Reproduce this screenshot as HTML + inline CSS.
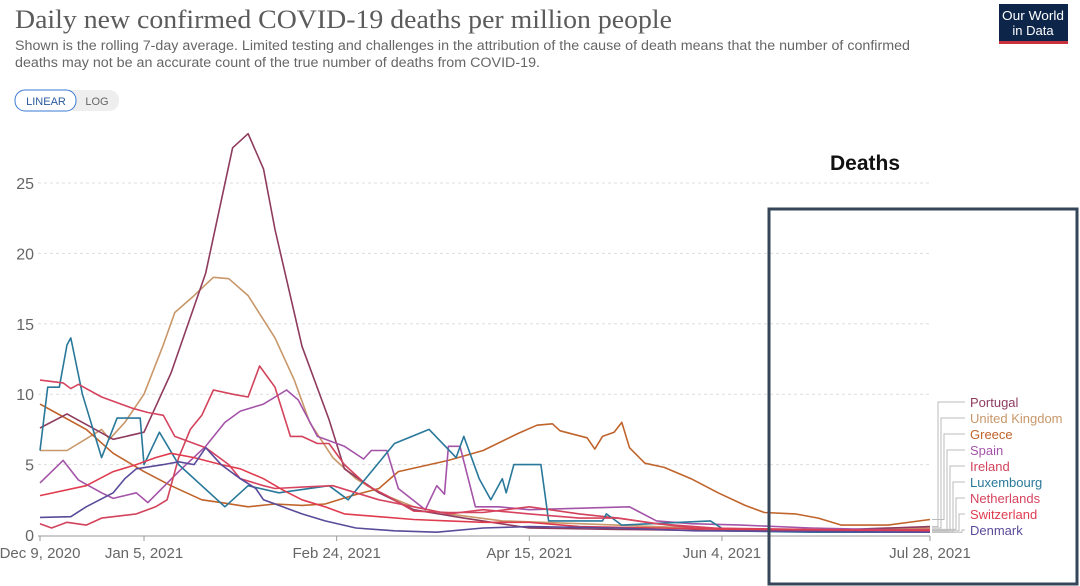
<!DOCTYPE html>
<html><head><meta charset="utf-8"><style>
html,body{margin:0;padding:0;background:#fff;}
svg{display:block;font-family:"Liberation Sans",sans-serif;}
</style></head><body>
<svg id="chart" width="1080" height="586" viewBox="0 0 1080 586" xmlns="http://www.w3.org/2000/svg">
<text x="15" y="28" font-family="Liberation Serif, serif" font-size="26" fill="#5b5b5b" textLength="657" lengthAdjust="spacingAndGlyphs">Daily new confirmed COVID-19 deaths per million people</text>
<text x="15" y="50" font-size="13.5" fill="#666" textLength="895" lengthAdjust="spacingAndGlyphs">Shown is the rolling 7-day average. Limited testing and challenges in the attribution of the cause of death means that the number of confirmed</text>
<text x="15" y="67" font-size="13.5" fill="#666" textLength="525" lengthAdjust="spacingAndGlyphs">deaths may not be an accurate count of the true number of deaths from COVID-19.</text>
<g>
<rect x="999" y="4" width="69" height="40" fill="#0d2549"/>
<rect x="999" y="41" width="69" height="3" fill="#c8313e"/>
<text x="1033" y="20" font-size="13" fill="#fff" text-anchor="middle" textLength="62" lengthAdjust="spacingAndGlyphs">Our World</text>
<text x="1033" y="35" font-size="13" fill="#fff" text-anchor="middle">in Data</text>
</g>
<g>
<rect x="15" y="90" width="104" height="21" rx="10" fill="#eee"/>
<rect x="15" y="90" width="61" height="21" rx="10" fill="#fff" stroke="#3a7bd5" stroke-width="1"/>
<text x="46" y="105" font-size="11" fill="#2a5b9f" text-anchor="middle">LINEAR</text>
<text x="97" y="105" font-size="11" fill="#666" text-anchor="middle">LOG</text>
</g>
<g id="grid"></g>
<g id="series"></g>
<g id="legend"></g>
<text x="830" y="170" font-size="21" font-weight="bold" fill="#111">Deaths</text>
<rect x="769" y="209" width="308" height="375" fill="none" stroke="#35465a" stroke-width="3"/>
<script>
const xTickLabels=["Dec 9, 2020","Jan 5, 2021","Feb 24, 2021","Apr 15, 2021","Jun 4, 2021","Jul 28, 2021"];
const xTickDays=[0,27,77,127,177,231];
const yTicks=[0,5,10,15,20,25];
const countries=["Portugal","United Kingdom","Greece","Spain","Ireland","Luxembourg","Netherlands","Switzerland","Denmark"];
const colors=["#8e3b5e","#c8976a","#c0642b","#a454a8","#d2435b","#29789a","#d6445f","#e03c4f","#5a4a9a"];
const portugalDays=[0,7,19,27,34,43,50,54,58,61,68,75,79,88,97,110,127,150,180,210,231];
const portugalVals=[7.6,8.6,6.8,7.3,11.5,18.6,27.5,28.5,26,21.7,13.4,8.2,4.7,3,1.8,1.2,0.5,0.4,0.3,0.4,0.6];
const ukDays=[0,7,16,18,22,27,32,35,40,45,49,54,61,66,70,76,82,88,97,106,120,140,170,200,231];
const ukVals=[6,6,7.5,6.8,8,10,13.5,15.8,17,18.3,18.2,17,14,11,8,5.5,4,3,2,1.5,1,0.8,0.5,0.3,0.5];
const greeceDays=[0,4,12,19,27,34,42,47,54,61,68,74,81,88,93,106,115,124,129,133,135,142,144,146,149,151,153,157,162,169,176,183,188,196,202,208,220,231];
const greeceVals=[9.3,8.7,7.5,5.8,4.5,3.5,2.5,2.3,2,2.2,2.1,2.2,2.8,3.3,4.5,5.3,6,7.2,7.8,7.9,7.4,6.9,6.1,7,7.3,8,6.2,5.1,4.8,4,3,2.1,1.6,1.5,1.2,0.7,0.7,1.1];
const spainDays=[0,6,10,16,19,25,28,36,43,48,52,58,64,67,72,79,84,86,90,93,100,103,105,106,109,113,119,127,153,160,169,182,200,231];
const spainVals=[3.7,5.3,3.9,3,2.6,3,2.3,4.5,6.3,8,8.8,9.3,10.3,9.6,7,6.3,5.4,6,6,3.3,1.8,3.5,2.9,6.3,6.3,2,2,1.8,2,1,0.8,0.7,0.5,0.3];
const irelandDays=[0,3,7,12,16,25,30,33,36,39,42,45,50,54,57,61,65,68,72,75,79,85,90,97,106,115,127,140,150,160,170,200,231];
const irelandVals=[0.8,0.5,0.9,0.7,1.2,1.5,2,2.5,5.5,7.5,8.5,10.3,10,9.8,12,10.5,7,7,6.5,6.5,5,3.5,2.8,1.7,1.6,1.6,2,1.5,1.2,0.8,0.5,0.4,0.3];
const luxDays=[0,2,5,7,8,11,16,20,26,27,31,36,48,54,62,75,80,92,101,108,110,114,117,120,121,123,130,132,146,147,151,174,178,200,231];
const luxVals=[6,10.5,10.5,13.5,14,10,5.5,8.3,8.3,5,7.3,5,2,3.5,3,3.5,2.5,6.5,7.5,5.5,7,4,2.5,4,3,5,5,1,1,1.5,0.7,1,0.3,0.2,0.2];
const nethDays=[0,6,8,10,16,24,28,32,35,40,43,49,52,58,61,68,76,82,88,97,106,115,127,140,150,160,175,200,231];
const nethVals=[11,10.8,10.4,10.7,9.8,9,8.7,8.5,7,6.5,6.2,5,4,3.5,3.3,3.4,3.5,3,2.5,2,1.5,1.8,1.5,1.2,1.2,0.8,0.5,0.3,0.4];
const swissDays=[0,12,19,25,30,34,40,47,52,58,63,68,74,79,88,97,106,115,127,140,160,180,231];
const swissVals=[2.8,3.5,4.5,5,5.5,5.8,5.5,5,4.7,4,3.2,2.5,2,1.5,1.3,1.1,1,0.9,0.9,0.6,0.5,0.4,0.3];
const denDays=[0,8,12,19,22,25,32,36,40,43,47,52,56,58,63,68,74,82,92,103,115,127,150,170,231];
const denVals=[1.25,1.3,2,3,4,4.7,5,5.2,5,6.2,5,4,3.3,2.5,2,1.5,1,0.5,0.3,0.2,0.5,0.6,0.5,0.3,0.2];
const seriesDays=[portugalDays,ukDays,greeceDays,spainDays,irelandDays,luxDays,nethDays,swissDays,denDays];
const seriesVals=[portugalVals,ukVals,greeceVals,spainVals,irelandVals,luxVals,nethVals,swissVals,denVals];

const NS="http://www.w3.org/2000/svg";
const X0=40,X1=930,Y0=535,Y25=183,DMAX=231;
function xs(d){return X0+(X1-X0)*d/DMAX;}
function ys(v){return Y0-(Y0-Y25)*v/25;}
function mk(tag,attrs,parent){const e=document.createElementNS(NS,tag);for(const k in attrs)e.setAttribute(k,attrs[k]);parent.appendChild(e);return e;}
const grid=document.getElementById('grid');
yTicks.forEach(function(t){
  if(t>0){const l=mk('line',{x1:38,x2:930,y1:ys(t),y2:ys(t),stroke:'#ddd','stroke-dasharray':'3,3'},grid);
  
  }
  const tx=mk('text',{x:34,y:ys(t)+6,'font-size':16,fill:'#666','text-anchor':'end'},grid);
  tx.textContent=t;
  
  
});
const ax=mk('line',{x1:38,x2:930,y1:Y0+1,y2:Y0+1,stroke:'#999'},grid);


xTickDays.forEach(function(d,i){
  mk('line',{x1:xs(d),x2:xs(d),y1:Y0+1,y2:Y0+6,stroke:'#999'},grid);
  const tx=mk('text',{x:xs(d),y:Y0+23,'font-size':15,fill:'#666','text-anchor':'middle'},grid);
  tx.textContent=xTickLabels[i];
  
  
});
const sg=document.getElementById('series');
const lg=document.getElementById('legend');
const order=[1,2,0,3,4,5,6,7,8];
order.forEach(function(i){
  const pts=seriesDays[i].map(function(d,j){return xs(d).toFixed(1)+','+ys(seriesVals[i][j]).toFixed(1);}).join(' ');
  const p=mk('polyline',{points:pts,fill:'none',stroke:colors[i],'stroke-width':1.6,'stroke-linejoin':'round'},sg);
  
  
});
countries.forEach(function(c,i){
  const ly=402+i*16;
  const vx=938+i*3;
  const endY=ys(seriesVals[i][seriesVals[i].length-1]);
  mk('polyline',{points:'932,'+endY.toFixed(1)+' '+vx+','+endY.toFixed(1)+' '+vx+','+ly+' 965,'+ly,fill:'none',stroke:'#bbb','stroke-width':1},lg);
  const t=mk('text',{x:970,y:ly+5,'font-size':13,fill:colors[i]},lg);
  t.textContent=c;
  
  
});
</script>
</svg>
</body></html>
